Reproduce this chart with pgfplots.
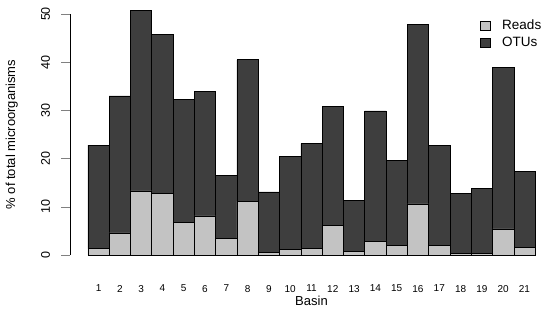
\documentclass[border=0pt]{standalone}
\usepackage{pgfplots}
\pgfplotsset{compat=1.18}
\usepackage{fontspec}
\setmainfont{Liberation Sans}
\definecolor{readsc}{RGB}{195,195,195}
\definecolor{otusc}{RGB}{62,62,62}
\begin{document}
\begin{tikzpicture}
\useasboundingbox (0,0) rectangle (550pt,330pt);
\begin{axis}[
  at={(70pt,75pt)}, anchor=south west,
  scale only axis, width=483pt, height=241pt,
  xmin=-0.34, xmax=22.34, ymin=0, ymax=50,
  clip=false,
  ybar stacked, bar width=1,
  axis y line*=left, axis x line*=bottom,
  x axis line style={draw=none},
  xtick=data, xtick style={draw=none},
  ytick={0,10,20,30,40,50},
  tick align=outside, major tick length=8.5pt,
  y axis line style={line width=0.6pt},
  ytick style={line width=0.6pt},
  /pgf/number format/assume math mode=true,
  xticklabel style={font=\fontsize{10}{12}\selectfont, anchor=north, yshift=-18pt},
  yticklabel style={font=\fontsize{12.5}{14}\selectfont, xshift=-8pt, rotate=90, anchor=south},
  xlabel={Basin},
  xlabel style={font=\fontsize{13}{15}\selectfont, at={(axis description cs:0.5,0)}, anchor=center, yshift=-46pt},
  ylabel={\% of total microorganisms},
  ylabel style={font=\fontsize{13}{15}\selectfont, at={(axis description cs:-0.1005,0.5)}, rotate=0, anchor=south},
  legend style={at={(axis cs:18.9,49.2)}, anchor=north west, draw=none, fill=none, inner sep=0pt,
    font=\fontsize{13.5}{15}\selectfont, row sep=2pt},
  legend cell align=left,
  legend image code/.code={\draw[#1,draw=black,line width=0.6pt] (0pt,-4.5pt) rectangle (10pt,4.5pt); \path[draw=none,fill=none] (0pt,0pt) rectangle (20pt,0.1pt);},
]
\addplot[fill=readsc, draw=black, line width=0.6pt] coordinates {
(1,1.3) (2,4.6) (3,13.3) (4,12.7) (5,6.8) (6,8.1) (7,3.5) (8,11.2) (9,0.55) (10,1.1)
(11,1.4) (12,6.2) (13,0.8) (14,2.9) (15,2.0) (16,10.6) (17,2.0) (18,0.3) (19,0.35) (20,5.4) (21,1.5)};
\addplot[fill=otusc, draw=black, line width=0.6pt] coordinates {
(1,21.5) (2,28.4) (3,37.4) (4,33.0) (5,25.4) (6,25.8) (7,13.0) (8,29.3) (9,12.55) (10,19.3)
(11,21.7) (12,24.7) (13,10.5) (14,27.0) (15,17.7) (16,37.2) (17,20.8) (18,12.4) (19,13.55) (20,33.5) (21,15.8)};
\legend{Reads,OTUs}
\end{axis}
\end{tikzpicture}
\end{document}
